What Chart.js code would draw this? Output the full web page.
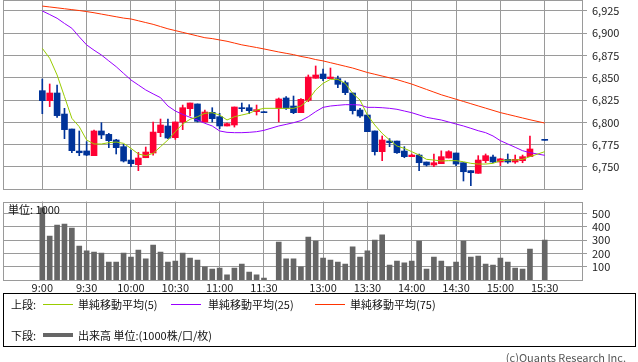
<!DOCTYPE html>
<html lang="ja">
<head>
<meta charset="utf-8">
<script src="https://cdn.jsdelivr.net/npm/chart.js@4"></script>
<style>
  html, body { margin: 0; padding: 0; background: #fff; }
  body {
    width: 638px; height: 362px; position: relative; overflow: hidden;
    font-family: 'Noto Sans CJK JP', 'Noto Sans', sans-serif; font-size: 11px; color: #111;
  }
  #priceWrap { position: absolute; left: 0; top: 0; width: 638px; height: 195px; }
  #volWrap { position: absolute; left: 0; top: 200px; width: 638px; height: 96px; }
  .txt { position: absolute; line-height: 14px; white-space: nowrap; }
  .ln { position: absolute; height: 0; width: 30px; border-top: 1px solid; }
  #legendBox {
    position: absolute; left: 3px; top: 293px; width: 631px; height: 52px;
    border: 1px solid #000;
  }
</style>
</head>
<body>
<div id="priceWrap"><canvas id="price-chart"></canvas></div>
<div id="volWrap"><canvas id="volume-chart"></canvas></div>
<div class="txt" style="left:8px;top:202px;">単位: 1000</div>

<div id="legendBox"></div>
<div class="txt" style="left:11px;top:297px;">上段:</div>
<div class="ln" style="left:43px;top:304px;border-color:#99cc00;"></div>
<div class="txt" style="left:78px;top:297px;">単純移動平均(5)</div>
<div class="ln" style="left:171px;top:304px;border-color:#9900ff;"></div>
<div class="txt" style="left:208px;top:297px;">単純移動平均(25)</div>
<div class="ln" style="left:315px;top:304px;border-color:#ff3300;"></div>
<div class="txt" style="left:350px;top:297px;">単純移動平均(75)</div>
<div class="txt" style="left:11px;top:328px;">下段:</div>
<div class="ln" style="left:43px;top:333px;border-top:4px solid #666;"></div>
<div class="txt" style="left:78px;top:328px;">出来高 単位:(1000株/口/枚)</div>
<div class="txt" style="right:12px;top:350px;color:#555;">(c)Quants Research Inc.</div>

<script>
// 5-minute slots, '' = lunch gap
const times = [
  '9:00','9:05','9:10','9:15','9:20','9:25','9:30','9:35','9:40','9:45',
  '9:50','9:55','10:00','10:05','10:10','10:15','10:20','10:25','10:30','10:35',
  '10:40','10:45','10:50','10:55','11:00','11:05','11:10','11:15','11:20','11:25',
  '11:30','','12:30','12:35','12:40','12:45','12:50','12:55','13:00','13:05',
  '13:10','13:15','13:20','13:25','13:30','13:35','13:40','13:45','13:50','13:55',
  '14:00','14:05','14:10','14:15','14:20','14:25','14:30','14:35','14:40','14:45',
  '14:50','14:55','15:00','15:05','15:10','15:15','15:20','15:25','15:30'
];
const tickLabels = ['9:00','9:30','10:00','10:30','11:00','11:30','13:00','13:30','14:00','14:30','15:00','15:30'];
const priceTicks = [6750, 6775, 6800, 6825, 6850, 6875, 6900, 6925];
const volumeTicks = [100, 200, 300, 400, 500];

const opens = [
  6835.6, 6824.4, 6833.0, 6809.4, 6792.6, 6767.9, 6768.0, 6762.7, 6790.4, 6786.6,
  6780.3, 6772.8, 6757.8, 6752.6, 6760.4, 6765.7, 6788.5, 6796.0, 6782.9, 6800.5,
  6815.4, 6820.7, 6800.5, 6811.3, 6806.4, 6796.0, 6797.1, 6816.5, 6816.5, 6812.1,
  6811.3, null, 6815.8, 6827.4, 6818.4, 6810.9, 6824.8, 6849.5, 6854.3, 6849.1,
  6849.1, 6844.6, 6833.0, 6813.9, 6808.3, 6790.4, 6767.2, 6779.1, 6779.1, 6767.9,
  6761.6, 6763.4, 6755.6, 6752.2, 6753.7, 6760.1, 6765.7, 6754.8, 6745.9, 6742.9,
  6757.1, 6761.2, 6755.6, 6758.6, 6755.6, 6757.1, 6761.6, null, 6779.9
];
const highs = [
  6848.7, 6843.1, 6842.0, 6815.8, 6792.6, 6790.4, 6778.4, 6791.5, 6799.7, 6787.7,
  6781.0, 6775.4, 6769.0, 6766.4, 6772.4, 6800.5, 6803.8, 6803.8, 6800.5, 6819.5,
  6821.8, 6820.7, 6813.9, 6816.5, 6810.2, 6799.3, 6817.3, 6821.8, 6819.9, 6819.5,
  6811.3, null, 6827.4, 6828.9, 6829.6, 6826.6, 6853.2, 6863.3, 6859.9, 6861.0,
  6852.1, 6846.5, 6833.0, 6815.8, 6808.3, 6790.4, 6784.8, 6781.8, 6779.1, 6772.8,
  6764.6, 6764.6, 6755.6, 6764.6, 6768.1, 6768.3, 6765.7, 6754.8, 6745.9, 6762.7,
  6764.6, 6763.4, 6759.7, 6764.6, 6763.4, 6763.4, 6784.8, null, 6779.9
];
const lows = [
  6809.8, 6817.7, 6805.7, 6781.8, 6766.0, 6762.7, 6762.7, 6762.7, 6781.8, 6771.7,
  6764.6, 6755.6, 6750.3, 6745.9, 6760.4, 6763.4, 6784.0, 6781.8, 6781.0, 6791.9,
  6807.2, 6800.5, 6800.5, 6800.5, 6793.0, 6796.0, 6794.8, 6812.1, 6809.8, 6808.3,
  6810.9, null, 6800.5, 6814.7, 6809.8, 6810.9, 6823.3, 6849.5, 6846.8, 6849.1,
  6839.0, 6831.1, 6809.4, 6805.7, 6789.6, 6763.4, 6757.1, 6772.8, 6765.3, 6760.4,
  6761.6, 6745.9, 6751.1, 6750.3, 6753.7, 6760.1, 6751.5, 6734.3, 6729.0, 6742.9,
  6754.8, 6754.8, 6751.5, 6754.1, 6754.1, 6754.8, 6761.6, null, 6779.9
];
const closes = [
  6824.4, 6833.0, 6807.6, 6791.9, 6768.3, 6766.0, 6763.4, 6790.4, 6785.9, 6779.5,
  6771.7, 6756.7, 6753.7, 6760.1, 6766.8, 6789.2, 6797.1, 6782.5, 6800.5, 6816.5,
  6821.8, 6801.2, 6811.7, 6804.2, 6796.0, 6798.6, 6817.3, 6815.4, 6813.2, 6814.3,
  6810.9, null, 6826.3, 6815.8, 6810.9, 6825.9, 6850.9, 6853.2, 6849.1, 6850.9,
  6842.7, 6833.4, 6813.2, 6807.2, 6789.6, 6767.2, 6780.3, 6777.3, 6766.0, 6761.6,
  6763.4, 6754.8, 6752.2, 6754.8, 6761.6, 6767.2, 6753.3, 6744.7, 6743.6, 6757.8,
  6762.7, 6755.6, 6759.1, 6755.6, 6758.6, 6761.6, 6770.2, null, 6779.9
];

const ma5 = [
  6883.1, 6871.9, 6853.2, 6828.9, 6804.6, 6795.2, 6780.3, 6775.8, 6775.8, 6777.3,
  6778.0, 6776.5, 6770.9, 6764.6, 6762.7, 6765.3, 6772.8, 6780.3, 6789.6, 6798.2,
  6803.5, 6806.4, 6810.2, 6810.9, 6808.3, 6802.7, 6806.4, 6808.3, 6810.2, 6813.9,
  6815.8, null, 6815.8, 6815.8, 6815.8, 6818.4, 6825.1, 6836.4, 6843.8, 6848.3,
  6848.3, 6843.8, 6832.6, 6825.1, 6808.3, 6797.1, 6787.7, 6780.3, 6773.5, 6770.9,
  6767.2, 6763.4, 6758.6, 6757.8, 6756.7, 6757.1, 6757.1, 6755.9, 6754.1, 6753.3,
  6753.3, 6754.1, 6757.1, 6757.8, 6757.8, 6758.6, 6761.6, null, 6767.2
];
const ma25 = [
  6925.0, 6921.0, 6916.8, 6911.0, 6905.6, 6896.0, 6886.9, 6881.0, 6875.6, 6869.0,
  6862.5, 6855.0, 6847.6, 6842.0, 6836.4, 6832.0, 6827.8, 6818.4, 6812.8, 6809.0,
  6805.7, 6802.7, 6799.0, 6796.0, 6790.4, 6788.9, 6788.5, 6788.5, 6788.9, 6789.6,
  6791.1, null, 6796.0, 6797.8, 6799.7, 6802.0, 6806.4, 6812.1, 6816.9, 6818.4,
  6819.2, 6819.9, 6819.9, 6819.5, 6816.9, 6816.9, 6816.5, 6815.8, 6814.7, 6812.8,
  6810.9, 6808.3, 6805.7, 6804.2, 6802.7, 6800.5, 6798.2, 6796.0, 6793.4, 6790.7,
  6788.5, 6784.8, 6779.5, 6775.8, 6772.1, 6768.3, 6766.1, null, 6763.1
];
const ma75 = [
  6930.5, 6929.5, 6928.5, 6927.5, 6926.5, 6925.5, 6924.3, 6923.0, 6921.5, 6920.0,
  6918.5, 6917.0, 6916.0, 6914.0, 6912.0, 6910.0, 6907.5, 6905.0, 6903.0, 6901.0,
  6899.0, 6897.0, 6895.0, 6894.0, 6892.5, 6891.0, 6889.0, 6887.0, 6885.5, 6884.0,
  6882.4, null, 6879.0, 6877.5, 6876.0, 6874.0, 6872.5, 6870.5, 6869.0, 6867.0,
  6865.0, 6863.0, 6861.0, 6858.5, 6856.0, 6854.0, 6852.0, 6850.0, 6848.0, 6845.5,
  6843.0, 6840.0, 6837.0, 6834.0, 6831.0, 6828.5, 6826.0, 6823.5, 6821.0, 6818.5,
  6816.0, 6813.5, 6811.0, 6809.0, 6807.0, 6805.0, 6803.0, null, 6799.3
];
const volumes = [
  542, 330, 412, 420, 390, 255, 218, 210, 202, 135,
  135, 202, 172, 225, 158, 262, 210, 135, 142, 202,
  165, 150, 98, 82, 90, 38, 90, 120, 60, 38,
  15, null, 285, 158, 158, 98, 322, 292, 165, 150,
  135, 120, 248, 172, 218, 300, 338, 112, 142, 128,
  142, 292, 82, 172, 142, 98, 135, 292, 172, 180,
  120, 112, 165, 135, 90, 82, 232, null, 300
];

const GRID = '#9a9a9a';
const UP = '#ff0033';
const DOWN = '#003399';
const FONT = { family: "'Noto Sans CJK JP', 'Noto Sans', sans-serif", size: 11 };
const tickIdx = tickLabels.map(t => times.indexOf(t));

// draw plot frame
const framePlugin = {
  id: 'frame',
  beforeDatasetsDraw(chart) {
    const { ctx, chartArea: a } = chart;
    ctx.save();
    ctx.strokeStyle = GRID;
    ctx.lineWidth = 1;
    ctx.strokeRect(Math.round(a.left) + 0.5, Math.round(a.top) + 0.5,
      Math.round(a.width) - 1, Math.round(a.height) - 1);
    ctx.restore();
  }
};

// keep the plot area where the reference has it (no label padding)
function noPad(s) {
  s.paddingTop = 0;
  s.paddingBottom = 0;
  s.paddingLeft = 0;
  s.paddingRight = 0;
}

function xScale(showLabels) {
  return {
    type: 'linear',
    min: -5.32,
    max: 73.18,
    offset: false,
    afterBuildTicks: s => { s.ticks = tickIdx.map(v => ({ value: v })); },
    afterFit: s => { s.height = showLabels ? 16 : 0; noPad(s); },
    grid: { color: GRID, drawTicks: false, offset: false },
    border: { display: false },
    ticks: {
      display: showLabels,
      autoSkip: false,
      maxRotation: 0,
      padding: 1,
      color: '#222',
      font: FONT,
      callback: v => times[v]
    }
  };
}

function yScale(min, max, tickVals, fmt) {
  return {
    position: 'right',
    min: min,
    max: max,
    afterBuildTicks: s => { s.ticks = tickVals.map(v => ({ value: v })); },
    afterFit: s => { s.width = 55; noPad(s); },
    grid: { color: GRID, tickLength: 4 },
    border: { display: false },
    ticks: { padding: 5, color: '#222', font: FONT, callback: fmt }
  };
}

const candleIdx = times.map((t, i) => i).filter(i => opens[i] !== null);
const candleColors = candleIdx.map(i => closes[i] > opens[i] ? UP : DOWN);

function lineSet(arr, color) {
  return {
    type: 'line',
    data: arr.map((v, i) => ({ x: i, y: v })),
    borderColor: color,
    borderWidth: 1,
    pointRadius: 0,
    tension: 0,
    spanGaps: true
  };
}

new Chart(document.getElementById('price-chart'), {
  type: 'bar',
  data: {
    datasets: [
      lineSet(ma5, '#99cc00'),
      lineSet(ma25, '#9900ff'),
      lineSet(ma75, '#ff3300'),
      {
        // bodies
        data: candleIdx.map(i => ({ x: i, y: [opens[i], closes[i]] })),
        backgroundColor: candleColors,
        borderWidth: 0,
        barThickness: 6,
        minBarLength: 1,
        grouped: false
      },
      {
        // wicks
        data: candleIdx.map(i => ({ x: i, y: [lows[i], highs[i]] })),
        backgroundColor: candleColors,
        borderWidth: 0,
        barThickness: 1,
        minBarLength: 1,
        grouped: false
      }
    ]
  },
  options: {
    responsive: true,
    maintainAspectRatio: false,
    animation: false,
    layout: { padding: { left: 3, right: 0, top: 0, bottom: 5 } },
    plugins: { legend: { display: false }, tooltip: { enabled: false } },
    scales: {
      x: xScale(false),
      y: yScale(6724.2, 6937.3, priceTicks, v => v.toLocaleString('en-US'))
    }
  },
  plugins: [framePlugin]
});

new Chart(document.getElementById('volume-chart'), {
  type: 'bar',
  data: {
    datasets: [{
      data: volumes.map((v, i) => ({ x: i, y: v })).filter(p => p.y !== null),
      backgroundColor: '#666666',
      borderWidth: 0,
      barThickness: 5,
      grouped: false
    }]
  },
  options: {
    responsive: true,
    maintainAspectRatio: false,
    animation: false,
    layout: { padding: { left: 3, right: 0, top: 1.5, bottom: 0 } },
    plugins: { legend: { display: false }, tooltip: { enabled: false } },
    scales: {
      x: xScale(true),
      y: yScale(0, 589, volumeTicks, v => v)
    }
  },
  plugins: [framePlugin]
});
</script>
</body>
</html>
